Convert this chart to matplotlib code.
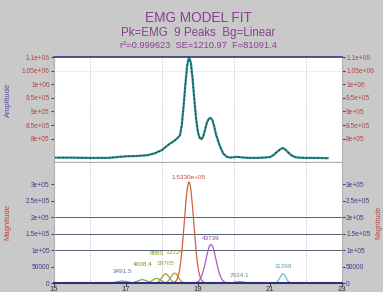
import numpy as np
import matplotlib
matplotlib.use("Agg")
import matplotlib.pyplot as plt

# ---------------- data ----------------
# measured trace (upper panel), read from picture
trace_x = [15.0, 15.5, 16.0, 16.5, 17.0, 17.3, 17.6, 17.8, 18.0, 18.2, 18.3, 18.4,
           18.5, 18.55, 18.6, 18.65, 18.7, 18.75, 18.8, 18.85, 18.9, 18.95, 19.0,
           19.05, 19.1, 19.15, 19.2, 19.25, 19.3, 19.35, 19.4, 19.45, 19.5, 19.6,
           19.7, 19.8, 19.9, 20.0, 20.1, 20.2, 20.4, 20.6, 20.8, 21.0, 21.1, 21.2,
           21.3, 21.35, 21.4, 21.5, 21.6, 21.7, 21.8, 22.0, 22.3, 22.6]
trace_y = [7.30e5, 7.30e5, 7.29e5, 7.29e5, 7.35e5, 7.36e5, 7.39e5, 7.46e5, 7.58e5,
           7.80e5, 7.88e5, 7.98e5, 8.12e5, 8.50e5, 9.20e5, 1.00e6, 1.07e6, 1.10e6,
           1.08e6, 1.02e6, 9.40e5, 8.70e5, 8.22e5, 8.02e5, 7.98e5, 8.10e5, 8.35e5,
           8.60e5, 8.73e5, 8.76e5, 8.68e5, 8.45e5, 8.15e5, 7.75e5, 7.45e5, 7.33e5,
           7.30e5, 7.32e5, 7.33e5, 7.31e5, 7.29e5, 7.29e5, 7.30e5, 7.32e5, 7.40e5,
           7.52e5, 7.62e5, 7.65e5, 7.63e5, 7.50e5, 7.38e5, 7.32e5, 7.30e5, 7.29e5,
           7.29e5, 7.28e5]

# fitted peaks (lower panel)
peak_labels = ["3491.5", "4008.4", "8880", "19705", "13124", "1.5330e+05",
               "43739", "7034.1", "11268"]
peak_centers = [16.9, 17.45, 17.85, 18.1, 18.35, 18.75, 19.36, 20.15, 21.36]
peak_heights = [6000, 10000, 14000, 28000, 30000, 307000, 117000, 4000, 27600]
peak_widths = [0.15, 0.13, 0.11, 0.10, 0.10, 0.13, 0.14, 0.12, 0.08]

upper_ticks = [8.0e5, 8.5e5, 9.0e5, 9.5e5, 1.0e6, 1.05e6, 1.1e6]
upper_ticklabels = ["8e+05", "8.5e+05", "9e+05", "9.5e+05", "1e+06", "1.05e+06", "1.1e+06"]
lower_ticks = [0, 50000, 100000, 150000, 200000, 250000, 300000]
lower_ticklabels = ["0", "50000", "1e+05", "1.5e+05", "2e+05", "2.5e+05", "3e+05"]
x_ticks = [15, 17, 19, 21, 23]

# ---------------- style ----------------
peak_colors = ["#7f8fb0", "#7fa060", "#90a838", "#a0a040", "#b0a030", "#c8643a",
               "#a65ec8", "#8090b0", "#70b4d8"]
label_colors = ["#6070a0", "#709050", "#80a020", "#909a30", "#a09a20", "#c04830",
                "#9040b0", "#7080a0", "#5a9ac0"]
label_offsets_px = [7, 13, 22, 8, 18, 2, 4, 4, 5]

plt.rcParams['font.family'] = ['Liberation Sans', 'DejaVu Sans']
fig = plt.figure(figsize=(3.83, 2.92), dpi=100)
fig.patch.set_facecolor('#c9c9c9')

L, W = 54 / 383, 288 / 383
ax1 = fig.add_axes([L, 1 - 162 / 292, W, 105 / 292])
ax2 = fig.add_axes([L, 1 - 283 / 292, W, 121 / 292])

for ax in (ax1, ax2):
    ax.set_facecolor('white')
    ax.set_xlim(15, 23)
    ax.set_xticks(x_ticks)
    ax.set_xticks(range(15, 24), minor=True)
    ax.grid(True, which='minor', axis='x', color='#a0a0a0', lw=0.6, ls=(0, (1, 2)))
    for s in ax.spines.values():
        s.set_color('#b0b0b0')
        s.set_linewidth(0.8)
    ax.tick_params(axis='both', which='both', length=2, labelsize=4.8, pad=1,
                   left=True, right=True, labelleft=True, labelright=True,
                   color='#404060')
    ax.tick_params(axis='x', which='minor', length=0)

# upper panel
ax1.set_ylim(7.14e5, 1.1e6)
ax1.set_yticks(upper_ticks)
ax1.set_yticklabels(upper_ticklabels)
ax1.tick_params(axis='y', labelcolor='#b04848')
ax1.tick_params(axis='x', labelbottom=False, bottom=False)
ax1.spines['top'].set_color('#353580')
ax1.spines['top'].set_linewidth(1.2)
ax1.axhline(1.05e6, color='#f0ecc0', lw=0.6)
ax1.plot(trace_x, trace_y, color='#2a9090', lw=1.6)
ax1.plot(trace_x, trace_y, color='#1a3a3a', lw=0.7, ls=(0, (2, 2)))

# lower panel
xs = np.linspace(15, 23, 800)
ax2.set_ylim(0, 3.68e5)
ax2.set_yticks(lower_ticks)
ax2.set_yticklabels(lower_ticklabels)
ax2.tick_params(axis='y', labelcolor='#404090')
ax2.tick_params(axis='x', labelcolor='#303040', labelsize=5.5, pad=0.5)
for yv in (100000, 150000, 200000):
    ax2.axhline(yv, color='#506070', lw=0.7)
ax2.spines['bottom'].set_color('#303080')
ax2.spines['bottom'].set_linewidth(1.5)
for lab, c, h, w, col, lcol, off in zip(peak_labels, peak_centers, peak_heights,
                                         peak_widths, peak_colors, label_colors,
                                         label_offsets_px):
    ys = h * np.exp(-0.5 * ((xs - c) / w) ** 2)
    ax2.plot(xs, ys, color=col, lw=0.9)
    ax2.annotate(lab, (c, h), xytext=(0, off * 0.72), textcoords='offset points',
                 ha='center', va='bottom', fontsize=4.6, color=lcol)

# labels
fig.text(8 / 383, 1 - 100 / 292, "Amplitude", rotation=90, ha='center', va='center',
         fontsize=5.5, color='#5050a0')
fig.text(8 / 383, 1 - 222 / 292, "Magnitude", rotation=90, ha='center', va='center',
         fontsize=5.5, color='#c04040')
fig.text(382.5 / 383, 1 - 222 / 292, "Magnitude", rotation=90, ha='right', va='center',
         fontsize=5.0, color='#c04040')

cx = L + W / 2
fig.text(cx, 1 - 18 / 292, "EMG MODEL FIT", ha='center', va='center',
         fontsize=9.8, color='#8a3e92')
fig.text(cx, 1 - 33 / 292, "Pk=EMG  9 Peaks  Bg=Linear", ha='center', va='center',
         fontsize=8.3, color='#8a3e92')
fig.text(cx, 1 - 45 / 292, "r²=0.999623  SE=1210.97  F=81091.4", ha='center',
         va='center', fontsize=6.7, color='#8a3e92')

fig.savefig("out.png", dpi=100, facecolor=fig.get_facecolor())
